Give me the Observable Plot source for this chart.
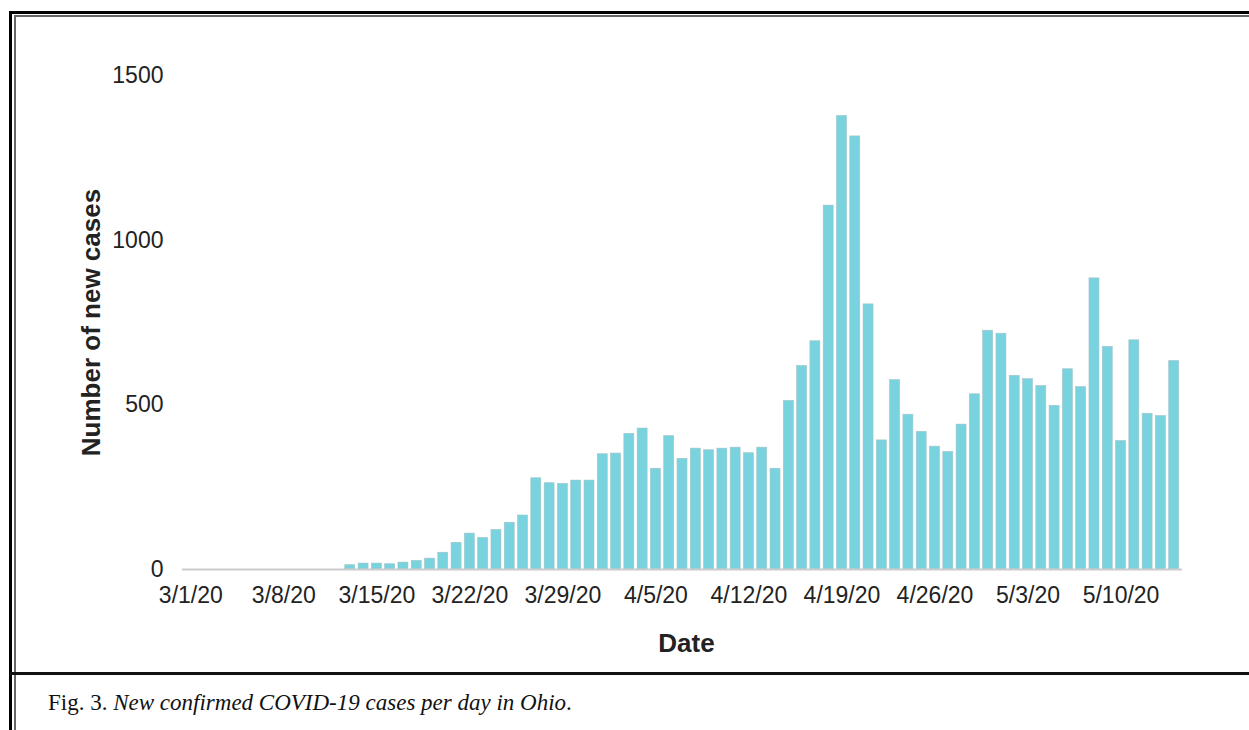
<!DOCTYPE html>
<html>
<head>
<meta charset="utf-8">
<script src="https://cdn.jsdelivr.net/npm/d3@7"></script>
<script src="https://cdn.jsdelivr.net/npm/@observablehq/plot@0.6"></script>
<style>
  html, body { margin: 0; padding: 0; background: #fff; }
  body { width: 1249px; height: 730px; position: relative; overflow: hidden; }
  .ln { position: absolute; }
  #chart { position: absolute; left: 0; top: 0; }
  #caption { position: absolute; left: 48px; top: 691px; font-family: "Liberation Serif", "DejaVu Serif", serif; font-size: 23px; line-height: 23px; color: #111; white-space: nowrap; }
</style>
</head>
<body>
<div class="ln" style="left:9px;top:11px;width:1240px;height:3px;background:#000"></div>
<div class="ln" style="left:9px;top:11px;width:3px;height:719px;background:#000"></div>
<div class="ln" style="left:14px;top:15px;width:1235px;height:2px;background:#666"></div>
<div class="ln" style="left:14px;top:15px;width:2px;height:715px;background:#666"></div>
<div class="ln" style="left:10px;top:672px;width:1239px;height:3px;background:#111"></div>
<div id="chart"></div>
<div id="caption">Fig. 3. <i>New confirmed COVID-19 cases per day in Ohio</i>.</div>
<script>
const dates = [
  "3/1/20","3/2/20","3/3/20","3/4/20","3/5/20","3/6/20","3/7/20","3/8/20","3/9/20","3/10/20",
  "3/11/20","3/12/20","3/13/20","3/14/20","3/15/20","3/16/20","3/17/20","3/18/20","3/19/20","3/20/20",
  "3/21/20","3/22/20","3/23/20","3/24/20","3/25/20","3/26/20","3/27/20","3/28/20","3/29/20","3/30/20",
  "3/31/20","4/1/20","4/2/20","4/3/20","4/4/20","4/5/20","4/6/20","4/7/20","4/8/20","4/9/20",
  "4/10/20","4/11/20","4/12/20","4/13/20","4/14/20","4/15/20","4/16/20","4/17/20","4/18/20","4/19/20",
  "4/20/20","4/21/20","4/22/20","4/23/20","4/24/20","4/25/20","4/26/20","4/27/20","4/28/20","4/29/20",
  "4/30/20","5/1/20","5/2/20","5/3/20","5/4/20","5/5/20","5/6/20","5/7/20","5/8/20","5/9/20",
  "5/10/20","5/11/20","5/12/20","5/13/20","5/14/20"
];
const cases = [
  0,0,0,0,0,0,0,0,0,0,
  0,0,13,18,18,16,21,26,33,51,
  81,109,96,120,142,164,277,262,260,270,
  270,350,352,412,428,306,405,336,367,362,
  367,370,353,370,306,512,618,693,1105,1377,
  1315,805,392,575,470,418,373,357,440,532,
  725,716,588,578,557,497,608,554,884,676,
  390,696,473,466,633
];
const xTicks = ["3/1/20","3/8/20","3/15/20","3/22/20","3/29/20","4/5/20","4/12/20","4/19/20","4/26/20","5/3/20","5/10/20"];
const yTicks = [0, 500, 1000, 1500];
const xTitle = "Date";
const yTitle = "Number of new cases";

const data = dates.map((d, i) => ({date: d, cases: cases[i]}));

const chart = Plot.plot({
  width: 1249,
  height: 665,
  marginLeft: 182,
  marginRight: 67,
  marginTop: 75,
  marginBottom: 96,
  style: {fontFamily: "'Liberation Sans', Arial, sans-serif", fontSize: "23px", color: "#222", background: "transparent"},
  x: {type: "band", domain: dates, padding: 0.25, round: false, label: null},
  y: {domain: [0, 1500], label: null},
  marks: [
    Plot.axisX({ticks: xTicks, tickSize: 0, tickPadding: 17, label: null, fontSize: 23}),
    Plot.axisY({ticks: yTicks, tickSize: 0, tickPadding: 19, label: null, fontSize: 23, tickFormat: d => String(d)}),
    Plot.barY(data, {x: "date", y: "cases", fill: "#79d3df", stroke: "#9fc3c8", strokeWidth: 0.6}),
    Plot.ruleY([0], {stroke: "#cccccc", strokeWidth: 2}),
    Plot.text([yTitle], {frameAnchor: "left", textAnchor: "middle", dx: -91, rotate: -90, text: d => d, fontSize: 26, fontWeight: "bold", fill: "#222"}),
    Plot.text([xTitle], {frameAnchor: "bottom", textAnchor: "middle", dy: 82, dx: 4, text: d => d, fontSize: 26, fontWeight: "bold", fill: "#222"})
  ]
});
document.getElementById("chart").appendChild(chart);
</script>
</body>
</html>
